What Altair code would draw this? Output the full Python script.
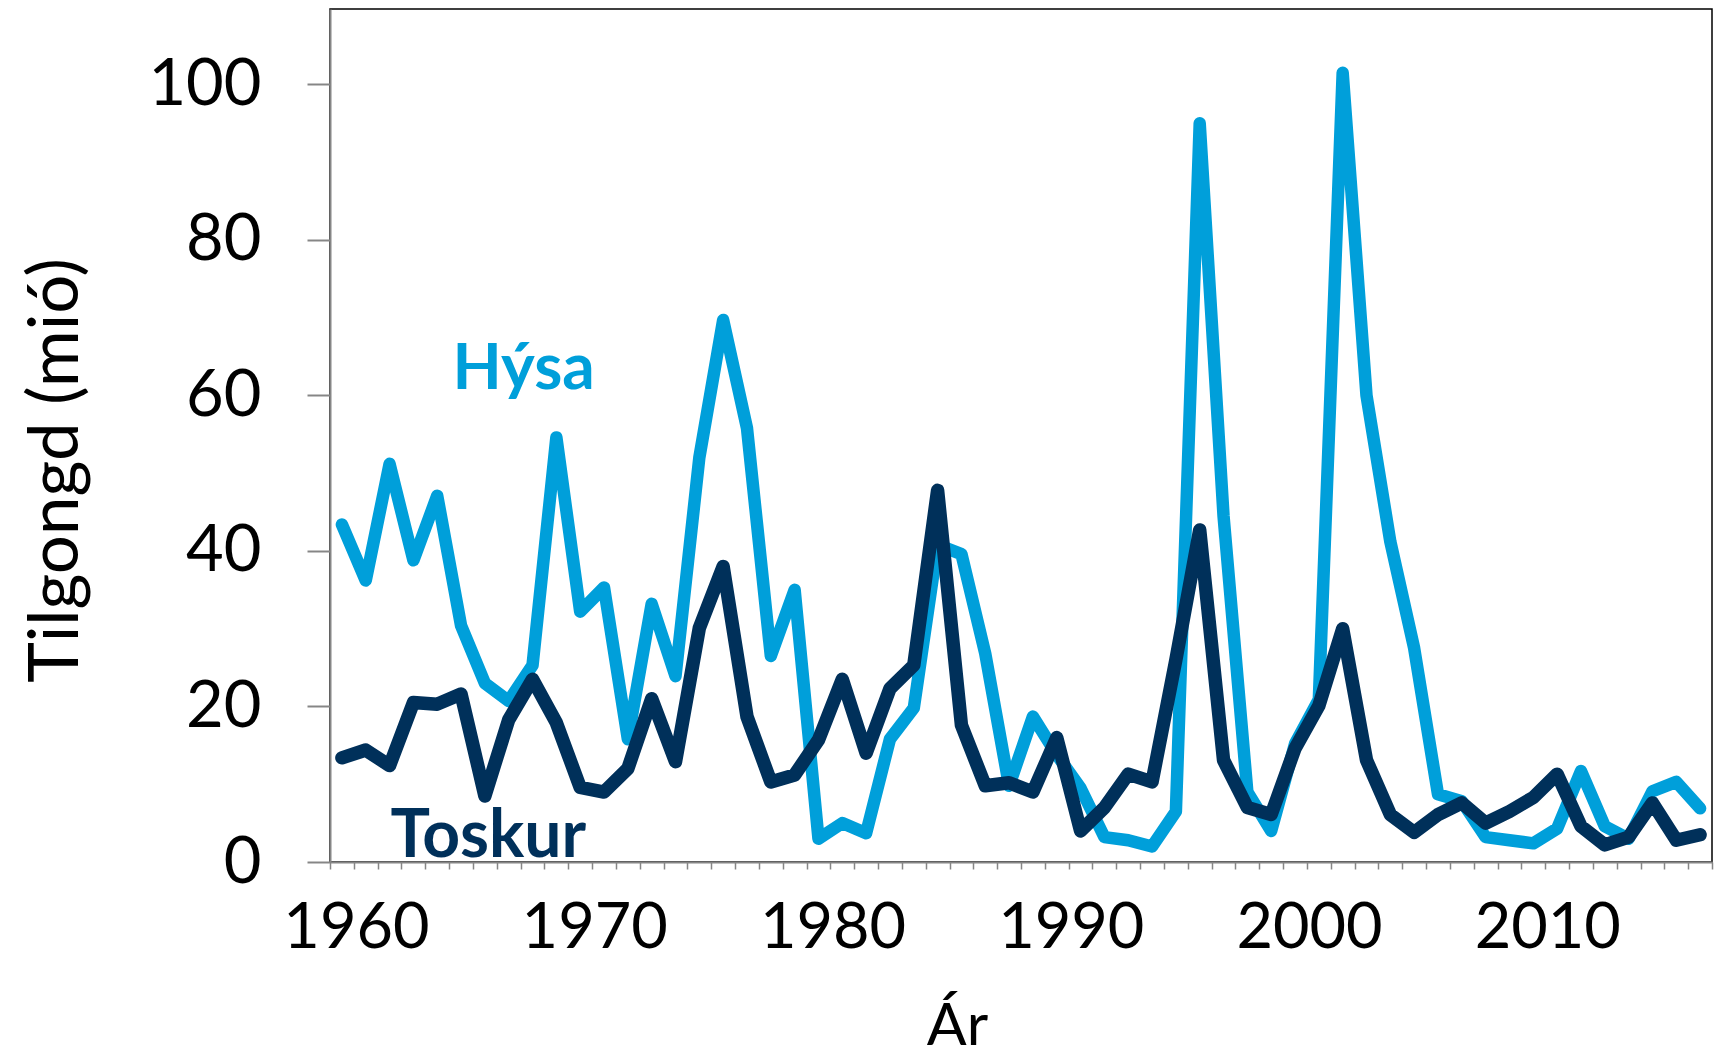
import altair as alt
import pandas as pd

years = [1960, 1961, 1962, 1963, 1964, 1965, 1966, 1967, 1968, 1969,
         1970, 1971, 1972, 1973, 1974, 1975, 1976, 1977, 1978, 1979,
         1980, 1981, 1982, 1983, 1984, 1985, 1986, 1987, 1988, 1989,
         1990, 1991, 1992, 1993, 1994, 1995, 1996, 1997, 1998, 1999,
         2000, 2001, 2002, 2003, 2004, 2005, 2006, 2007, 2008, 2009,
         2010, 2011, 2012, 2013, 2014, 2015, 2016, 2017]

hysa = [43.4, 36.2, 51.2, 38.8, 47.1, 30.4, 23.0, 20.7, 25.3, 54.6,
        32.2, 35.3, 15.8, 33.2, 23.9, 52.0, 69.7, 55.8, 26.5, 35.0,
        3.0, 5.0, 3.7, 15.8, 19.8, 40.8, 39.6, 26.8, 9.8, 18.7,
        13.8, 9.5, 3.2, 2.8, 2.0, 6.5, 95.0, 44.5, 9.0, 4.0,
        15.2, 20.9, 101.5, 60.0, 41.2, 27.5, 8.7, 7.8, 3.2, 2.8,
        2.4, 4.3, 11.7, 4.6, 3.0, 9.1, 10.3, 6.9]

toskur = [13.4, 14.4, 12.4, 20.5, 20.3, 21.6, 8.5, 18.3, 23.5, 17.9,
          9.6, 9.0, 12.0, 21.0, 12.9, 30.1, 38.0, 18.7, 10.3, 11.2,
          15.7, 23.5, 14.0, 22.3, 25.3, 47.8, 17.6, 9.8, 10.2, 9.0,
          16.0, 4.0, 7.0, 11.3, 10.3, 26.0, 42.7, 13.1, 7.0, 6.1,
          14.6, 20.1, 30.0, 13.1, 6.1, 3.8, 6.1, 7.6, 5.0, 6.5,
          8.3, 11.3, 4.6, 2.2, 3.2, 7.6, 2.8, 3.5]

series_names = ["Hýsa", "Toskur"]
series_colors = ["#009FDA", "#00305A"]
y_ticks = [0, 20, 40, 60, 80, 100]
x_label_years = [1960, 1970, 1980, 1990, 2000, 2010]

rows = []
for name, vals in zip(series_names, [hysa, toskur]):
    for yr, v in zip(years, vals):
        rows.append({"year": yr, "value": v, "series": name})
df = pd.DataFrame(rows)

# tick marks sit between the categories (Excel category axis)
x_boundaries = [yr - 0.5 for yr in years] + [years[-1] + 0.5]
x_values = x_boundaries + x_label_years

GRAY = "#868686"
FONT = "Lato"

x_axis = alt.Axis(
    values=x_values,
    labelExpr="datum.value % 10 === 0 ? '' + datum.value : ''",
    tickOpacity={"condition": {"test": "datum.value % 1 === 0", "value": 0}, "value": 1},
    tickSize=7, tickWidth=1.5, tickColor=GRAY,
    domainColor=GRAY, domainWidth=2,
    labelFont=FONT, labelFontSize=63, labelColor="black",
    labelPadding=28, labelOffset=14,
    labelOverlap=False, labelFlush=False,
    grid=False,
    title="Ár", titleFont=FONT, titleFontSize=59, titleFontWeight="normal",
    titleColor="black", titleX=627, titleY=182,
    titleAlign="center", titleBaseline="alphabetic",
)

y_axis = alt.Axis(
    values=y_ticks,
    tickSize=23, tickWidth=2, tickColor=GRAY,
    domainColor=GRAY, domainWidth=2,
    labelFont=FONT, labelFontSize=65, labelColor="black",
    labelPadding=46, grid=False,
    title="Tilgongd (mió)", titleFont=FONT, titleFontSize=69,
    titleFontWeight="normal", titleColor="black",
    titleAngle=270, titleX=-253, titleY=461,
    titleAlign="center", titleBaseline="alphabetic",
)

x_enc = alt.X("year:Q", scale=alt.Scale(domain=[1959.5, 2017.5], nice=False, zero=False), axis=x_axis)
y_enc = alt.Y("value:Q", scale=alt.Scale(domain=[0, 109.7], nice=False, zero=False), axis=y_axis)
color_enc = alt.Color("series:N", scale=alt.Scale(domain=series_names, range=series_colors), legend=None)

base = alt.Chart(df)
hysa_line = base.transform_filter(alt.datum.series == "Hýsa").mark_line(
    strokeWidth=12.5, strokeJoin="round", strokeCap="round"
).encode(x=x_enc, y=y_enc, color=color_enc)
toskur_line = base.transform_filter(alt.datum.series == "Toskur").mark_line(
    strokeWidth=13.5, strokeJoin="round", strokeCap="round"
).encode(x=x_enc, y=y_enc, color=color_enc)

hysa_text = alt.Chart(pd.DataFrame({"year": [1964.64], "value": [60.84], "series": ["Hýsa"]})).mark_text(
    font=FONT, fontWeight="bold", fontSize=64, align="left", baseline="alphabetic"
).encode(x=x_enc, y=y_enc, color=color_enc, text="series:N")
toskur_text = alt.Chart(pd.DataFrame({"year": [1962.04], "value": [0.68], "series": ["Toskur"]})).mark_text(
    font=FONT, fontWeight="bold", fontSize=66, align="left", baseline="alphabetic"
).encode(x=x_enc, y=y_enc, color=color_enc, text="series:N")

chart = alt.layer(hysa_line, toskur_line, hysa_text, toskur_text).properties(
    width=1382, height=853,
    padding={"left": 322, "top": 1, "right": 2, "bottom": 196},
    autosize=alt.AutoSizeParams(type="none"),
).configure_view(stroke="black", strokeWidth=1.5)

chart.save("out.html", embed_options={"renderer": "svg", "actions": False})
